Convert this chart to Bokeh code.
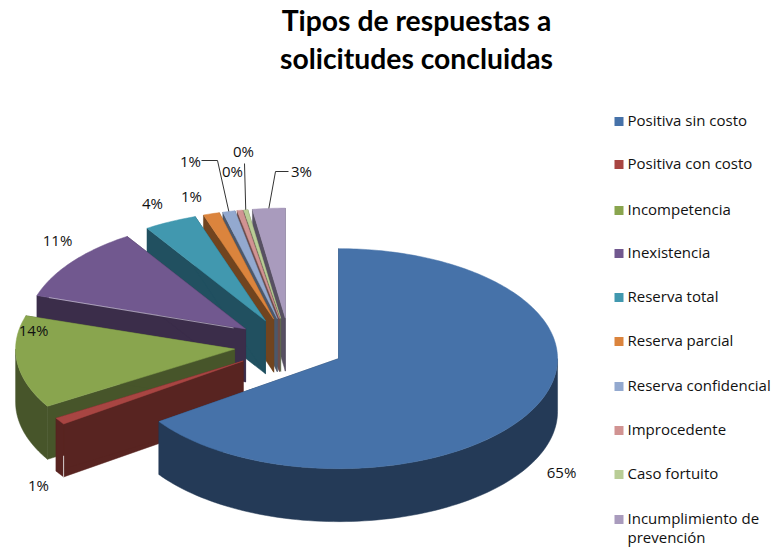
import numpy as np
from bokeh.plotting import figure
from bokeh.models import Range1d, ColumnDataSource
from bokeh.embed import file_html
from bokeh.resources import INLINE

title_lines = ["Tipos de respuestas a", "solicitudes concluidas"]
categories = ["Positiva sin costo", "Positiva con costo", "Incompetencia", "Inexistencia",
              "Reserva total", "Reserva parcial", "Reserva confidencial", "Improcedente",
              "Caso fortuito", "Incumplimiento de prevención"]
values = [65.3, 1.0, 13.6, 11.0, 3.9, 1.2, 0.9, 0.4, 0.3, 2.4]
pct_labels = ["65%", "1%", "14%", "11%", "4%", "1%", "1%", "0%", "0%", "3%"]
top_colors = ["#4672A9", "#A84542", "#89A54E", "#71588F", "#4198AF",
              "#DB843D", "#93A9CF", "#D19392", "#B9CD96", "#A99BBD"]
wall_colors = ["#243A57", "#582421", "#47552A", "#3B2D4A", "#215060",
               "#71441F", "#4C586B", "#6C4C4B", "#60694E", "#575062"]

# layout, in page pixels
CX, CY, RX, RY, EXPLODE, DEPTH = 289.0, 345.3, 219, 110, 0.2525, 53
label_xy = [(561, 473), (38, 486), (33, 331), (57, 241), (152, 204),
            (191, 197), (190, 162), (232, 172), (243, 152), (301, 172)]
leaders = {6: [(201, 160), (217, 160)], 8: [(244, 163)], 9: [(288, 171), (275, 171)]}
legend_y = [121, 164, 210, 253, 297, 341, 386, 430, 474, 519]
TEXT_NUDGE = -1.5

fractions = np.array(values) / sum(values)
edges = np.concatenate([[0], np.cumsum(fractions)]) * 2 * np.pi


def pt(a, ax, ay, dz=0.0):
    return ax + RX * np.sin(a), ay - RY * np.cos(a) + dz


xs, ys, fills = [], [], []
apex = []
for i in range(len(values)):
    a0, a1 = edges[i], edges[i + 1]
    m = (a0 + a1) / 2
    apex.append((CX + EXPLODE * RX * np.sin(m), CY - EXPLODE * RY * np.cos(m)))

order = [9, 8, 7, 6, 5, 4, 3, 2, 1, 0]
for i in order:
    a0, a1 = edges[i], edges[i + 1]
    ax, ay = apex[i]
    for a in (a0, a1):  # radial walls
        x, y = pt(a, ax, ay)
        xs.append([ax, x, x, ax])
        ys.append([ay, y, y + DEPTH, ay + DEPTH])
        fills.append(wall_colors[i])
    lo, hi = max(a0, np.pi / 2), min(a1, 3 * np.pi / 2)
    if hi > lo:  # outer wall
        t = np.linspace(lo, hi, 90)
        x, y = pt(t, ax, ay)
        xs.append(list(x) + list(x[::-1]))
        ys.append(list(y) + list((y + DEPTH)[::-1]))
        fills.append(wall_colors[i])
    t = np.linspace(a0, a1, max(4, int((a1 - a0) * 60)))
    x, y = pt(t, ax, ay)
    xs.append([ax] + list(x))
    ys.append([ay] + list(y))
    fills.append(top_colors[i])

p = figure(width=772, height=547, x_range=Range1d(0, 772), y_range=Range1d(547, 0),
           output_backend="svg", toolbar_location=None, min_border=0)
p.axis.visible = False
p.xgrid.visible = False
p.ygrid.visible = False
p.outline_line_color = None

p.patches(xs="xs", ys="ys", fill_color="fills", line_color="fills", line_width=0.5,
          source=ColumnDataSource(dict(xs=xs, ys=ys, fills=fills)))

# thin highlights on two slice edges
rx0, ry0 = pt(edges[1], *apex[1])
p.line([rx0, rx0], [ry0 + 0.6 * DEPTH, ry0 + DEPTH], line_color="#D8D0D0", line_width=1)
ux, uy = pt(edges[3], *apex[3])
p.line([ux + 12, apex[3][0] - 12], [uy + 2, apex[3][1] - 1], line_color="#C9C0D6", line_width=0.7)

# leader lines
for i, pts in leaders.items():
    a = (edges[i] + edges[i + 1]) / 2
    ex, ey = pt(a, *apex[i])
    p.line([q[0] for q in pts] + [ex], [q[1] for q in pts] + [ey], line_color="#333333", line_width=1)

p.text(x=[q[0] for q in label_xy], y=[q[1] + TEXT_NUDGE for q in label_xy], text=pct_labels,
       text_font_size="15px", text_font={"value": "Open Sans"}, text_color="#111111",
       text_align="center", text_baseline="middle")

p.text(x=[416, 416], y=[19, 57], text=title_lines, text_font_size="28.3px", text_font={"value": "Lato"},
       text_font_style="bold", text_color="#000000", text_align="center", text_baseline="middle")

p.quad(left=[614] * 10, right=[623] * 10, top=[y - 4.5 for y in legend_y], bottom=[y + 4.5 for y in legend_y],
       fill_color=top_colors, line_color=None)
leg_text = categories[:-1] + ["Incumplimiento de", "prevención"]
leg_y = [y + TEXT_NUDGE for y in legend_y + [538]]
p.text(x=[627] * 11, y=leg_y, text=leg_text, text_font_size="15px", text_font={"value": "Open Sans"},
       text_color="#111111", text_align="left", text_baseline="middle")

open("out.html", "w").write(file_html(p, INLINE))
